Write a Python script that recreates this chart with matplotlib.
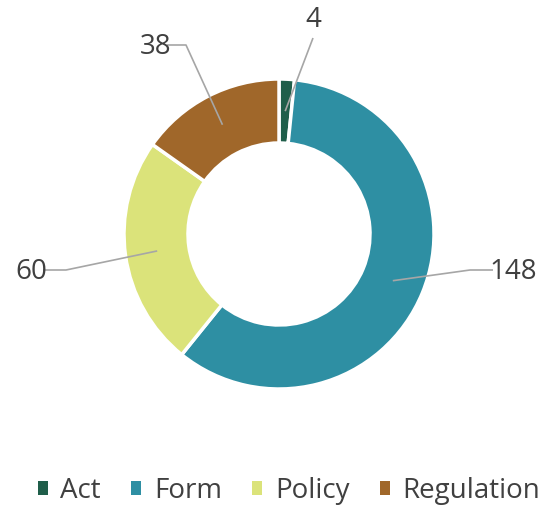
import numpy as np
import matplotlib.pyplot as plt
from matplotlib.patches import Patch

# data
categories = ['Act', 'Form', 'Policy', 'Regulation']
counts = [4, 148, 60, 38]
colors = ['#1f5e4a', '#2e8fa3', '#dbe37a', '#a0672a']

# label placement in pixels (elbow point, text anchor), top-left origin
elbows = [None, (470, 270), (66, 270), (186, 45)]
label_pos = [(313, 20), (489, 272), (47, 272), (171, 47)]
label_ha = ['center', 'left', 'right', 'right']

W, H = 550, 508
cx, cy = 279, 234
R, r_in = 155, 91
text_col = '#404040'
line_col = '#a6a6a6'

fig = plt.figure(figsize=(W / 100, H / 100), dpi=100)
ax = fig.add_axes([0, 0, 1, 1])

wedges, _ = ax.pie(counts, colors=colors, startangle=90, counterclock=False,
                   center=(cx, H - cy), radius=R,
                   wedgeprops=dict(width=R - r_in, edgecolor='white', linewidth=2.5))
ax.set_xlim(0, W)
ax.set_ylim(0, H)
ax.set_aspect('equal')
ax.axis('off')

r_mid = (R + r_in) / 2
for i, w in enumerate(wedges):
    ang = np.deg2rad((w.theta1 + w.theta2) / 2)
    ax_x = cx + r_mid * np.cos(ang)
    ax_y = (H - cy) + r_mid * np.sin(ang)
    lx, ly = label_pos[i]
    xs, ys = [ax_x], [ax_y]
    if elbows[i] is not None:
        ex, ey = elbows[i]
        xs += [ex, lx + (4 if label_ha[i] == 'left' else -4)]
        ys += [H - ey, H - ey]
    else:
        xs.append(lx)
        ys.append(H - ly - 18)
    ax.plot(xs, ys, color=line_col, lw=1.2, solid_capstyle='butt')
    ax.text(lx, H - ly, str(counts[i]), ha=label_ha[i], va='center',
            fontsize=20, color=text_col, family='Open Sans')

handles = [Patch(facecolor=c, edgecolor='none') for c in colors]
fig.legend(handles, categories, loc='center', bbox_to_anchor=(289 / W, 1 - 491 / H),
           ncol=4, frameon=False, labelcolor=text_col,
           prop={'family': 'Open Sans', 'size': 20},
           handlelength=0.36, handleheight=0.36, handletextpad=0.45,
           columnspacing=1.1, borderpad=0)

fig.savefig('out.png', dpi=100)
